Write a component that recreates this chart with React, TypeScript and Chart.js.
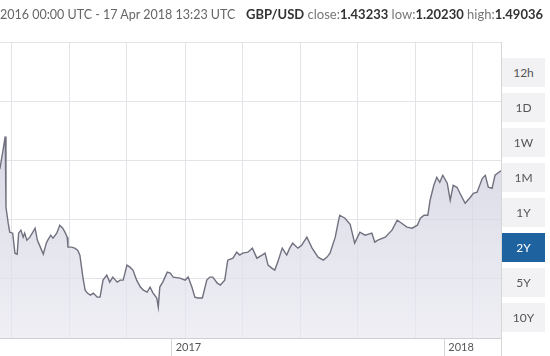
import React, { useEffect, useRef } from "react";
import { Chart, registerables } from "chart.js";

Chart.register(...registerables);

// Day offsets since 17 Apr 2016 and GBP/USD rates
const days = [
  0, 30, 55, 60, 64, 67, 68, 71, 73, 77, 80, 83, 85, 88, 91, 93, 96, 100, 104, 107, 110, 114, 118, 122, 124,
  128, 131, 136, 140, 144, 147, 150, 151, 156, 160, 164, 167, 171, 174, 177, 181, 185, 190, 194, 198, 203,
  207, 211, 217, 221, 225, 230, 234, 238, 243, 248, 252, 257, 261, 265, 270, 272, 274, 278, 284, 288, 292,
  301, 308, 312, 317, 321, 325, 331, 337, 341, 345, 351, 355, 361, 365, 372, 377, 381, 385, 392, 398, 404,
  411, 415, 419, 424, 428, 432, 438, 444, 448, 452, 459, 464, 471, 478, 486, 493, 498, 502, 509, 513, 515,
  522, 529, 535, 542, 549, 558, 562, 566, 576, 585, 592, 598, 605, 612, 619, 623, 628, 633, 636, 641, 645,
  649, 653, 659, 663, 667, 672, 676, 683, 690, 694, 699, 706, 710, 714, 719, 723, 728, 731,
];
const rates = [
  1.435, 1.415, 1.425, 1.4367, 1.467, 1.4904, 1.3709, 1.3439, 1.3288, 1.3271, 1.2933, 1.2917, 1.3271, 1.3321,
  1.3203, 1.3271, 1.3153, 1.3203, 1.3288, 1.3355, 1.3153, 1.3035, 1.2917, 1.3102, 1.3153, 1.3237, 1.3186,
  1.3271, 1.3406, 1.3355, 1.3288, 1.3203, 1.3035, 1.3035, 1.3018, 1.2984, 1.29, 1.2529, 1.2309, 1.2259,
  1.2225, 1.2259, 1.2191, 1.2191, 1.2478, 1.2562, 1.2444, 1.2529, 1.2444, 1.2478, 1.2478, 1.2731, 1.2697,
  1.2647, 1.2478, 1.236, 1.2309, 1.2276, 1.236, 1.2259, 1.2175, 1.2023, 1.236, 1.2444, 1.2613, 1.2596,
  1.2529, 1.2512, 1.2478, 1.2529, 1.236, 1.2191, 1.2175, 1.2175, 1.2478, 1.2529, 1.2529, 1.2427, 1.2394,
  1.2478, 1.2815, 1.2849, 1.295, 1.29, 1.2933, 1.295, 1.3018, 1.2849, 1.29, 1.2933, 1.2731, 1.268, 1.2647,
  1.2782, 1.3018, 1.29, 1.3018, 1.3102, 1.3018, 1.3068, 1.3203, 1.3018, 1.2866, 1.2815, 1.2866, 1.2933,
  1.3203, 1.3456, 1.3574, 1.3524, 1.3422, 1.3102, 1.3288, 1.3237, 1.3271, 1.3119, 1.3153, 1.3203, 1.3321,
  1.349, 1.3439, 1.3372, 1.3355, 1.3406, 1.3524, 1.3574, 1.3574, 1.3827, 1.408, 1.4215, 1.4131, 1.4249,
  1.4114, 1.3827, 1.408, 1.4046, 1.3945, 1.3777, 1.3878, 1.3945, 1.3962, 1.4198, 1.4249, 1.4046, 1.4029,
  1.4249, 1.43, 1.4323,
];

const yearTickDays = [290, 655, 731];
const yearLabels = ["2017", "2018", ""];
const gridDays = [76, 153, 230, 308, 385, 462, 539, 616, 693];
const yGridValues = [1.15, 1.25, 1.35, 1.45, 1.55, 1.65];
const xMin = 60;
const xMax = 731;
const yMin = 1.15;
const yMax = 1.65;

const periods = ["12h", "1D", "1W", "1M", "1Y", "2Y", "5Y", "10Y"];
const activePeriod = "2Y";

const FONT = "Lato, 'Open Sans', sans-serif";

export default function App() {
  const canvasRef = useRef<HTMLCanvasElement | null>(null);

  useEffect(() => {
    const canvas = canvasRef.current;
    if (!canvas) return;
    const chart = new Chart(canvas, {
      type: "line",
      data: {
        datasets: [
          {
            data: days.map((d, i) => ({ x: d, y: rates[i] })),
            borderColor: "#70707f",
            borderWidth: 1.4,
            pointRadius: 0,
            tension: 0,
            fill: "start",
            backgroundColor: (ctx: any) => {
              const { chart } = ctx;
              const area = chart.chartArea;
              if (!area) return "rgba(215,216,228,0.7)";
              const g = chart.ctx.createLinearGradient(0, area.top + 90, 0, area.bottom);
              g.addColorStop(0, "rgba(203,204,221,0.75)");
              g.addColorStop(1, "rgba(232,232,240,0.7)");
              return g;
            },
          },
        ],
      },
      options: {
        responsive: false,
        animation: false,
        layout: { padding: { top: 42, right: 49, left: 0, bottom: 0 } },
        plugins: { legend: { display: false }, tooltip: { enabled: false } },
        scales: {
          x: {
            type: "linear",
            min: xMin,
            max: xMax,
            position: "bottom",
            afterBuildTicks: (scale: any) => {
              scale.ticks = yearTickDays.map((v) => ({ value: v }));
            },
            afterFit: (scale: any) => {
              scale.height = 18;
            },
            ticks: {
              autoSkip: false,
              maxRotation: 0,
              align: "start",
              labelOffset: 4,
              padding: -15,
              color: "#555",
              font: { family: FONT, size: 11 },
              callback: (value: any) => {
                const i = yearTickDays.indexOf(Number(value));
                return i >= 0 ? yearLabels[i] : "";
              },
            },
            grid: {
              drawOnChartArea: false,
              drawTicks: true,
              tickLength: 18,
              color: "#d6d6d6",
            },
            border: { display: true, color: "#cfcfcf" },
          },
          x2: {
            type: "linear",
            axis: "x",
            min: xMin,
            max: xMax,
            position: "top",
            afterBuildTicks: (scale: any) => {
              scale.ticks = gridDays.map((v) => ({ value: v }));
            },
            afterFit: (scale: any) => {
              scale.height = 0;
            },
            ticks: { display: false },
            grid: { drawTicks: false, color: "#e4e4e8" },
            border: { display: false },
          },
          y: {
            type: "linear",
            min: yMin,
            max: yMax,
            position: "right",
            afterBuildTicks: (scale: any) => {
              scale.ticks = yGridValues.map((v) => ({ value: v }));
            },
            afterFit: (scale: any) => {
              scale.width = 0;
            },
            ticks: { display: false },
            grid: { drawTicks: false, color: "#e4e4e8" },
            border: { display: true, color: "#d6d6d6" },
          },
        },
      },
    });
    return () => chart.destroy();
  }, []);

  return (
    <div
      style={{
        position: "fixed",
        left: 0,
        top: 0,
        width: 550,
        height: 356,
        background: "#fff",
        overflow: "hidden",
        fontFamily: FONT,
      }}
    >
      <canvas ref={canvasRef} width={550} height={356} style={{ position: "absolute", left: 0, top: 0 }} />
      <div
        style={{
          position: "absolute",
          left: 0,
          top: 7,
          fontSize: 12.5,
          color: "#666",
          whiteSpace: "nowrap",
        }}
      >
        2016 00:00 UTC - 17 Apr 2018 13:23 UTC
      </div>
      <div
        style={{
          position: "absolute",
          left: 246,
          top: 6,
          fontSize: 13,
          color: "#777",
          whiteSpace: "nowrap",
        }}
      >
        <b style={{ color: "#333" }}>GBP/USD</b> close:<b style={{ color: "#333" }}>1.43233</b> low:
        <b style={{ color: "#333" }}>1.20230</b> high:<b style={{ color: "#333" }}>1.49036</b>
      </div>
      {periods.map((p, i) => (
        <div
          key={p}
          style={{
            position: "absolute",
            left: 502,
            top: 58 + i * 35,
            width: 43,
            height: 29,
            lineHeight: "29px",
            textAlign: "center",
            fontSize: 12,
            background: p === activePeriod ? "#1f62a0" : "#f2f2f4",
            color: p === activePeriod ? "#fff" : "#555",
          }}
        >
          {p}
        </div>
      ))}
    </div>
  );
}
